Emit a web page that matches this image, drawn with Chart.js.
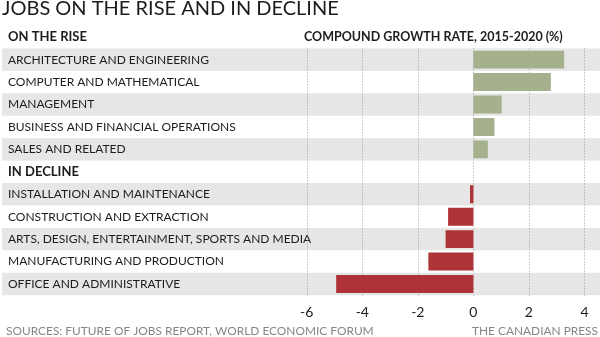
<!DOCTYPE html>
<html lang="en">
<head>
<meta charset="UTF-8">
<meta name="viewport" content="width=device-width, initial-scale=1.0">
<title>Jobs on the rise and in decline</title>
<script src="https://cdn.jsdelivr.net/npm/chart.js@4.4.1/dist/chart.umd.min.js"></script>
<style>
    html, body {
        margin: 0;
        padding: 0;
        background: #fff;
    }

    #wrap {
        width: 600px;
        height: 337px;
    }
</style>
</head>
<body>
<div id="wrap">
    <canvas id="jobsChart" width="600" height="337"></canvas>
</div>

<script>
    // rows from top to bottom, the two section headers carry no value
    const categories = [
        'ON THE RISE',
        'ARCHITECTURE AND ENGINEERING',
        'COMPUTER AND MATHEMATICAL',
        'MANAGEMENT',
        'BUSINESS AND FINANCIAL OPERATIONS',
        'SALES AND RELATED',
        'IN DECLINE',
        'INSTALLATION AND MAINTENANCE',
        'CONSTRUCTION AND EXTRACTION',
        'ARTS, DESIGN, ENTERTAINMENT, SPORTS AND MEDIA',
        'MANUFACTURING AND PRODUCTION',
        'OFFICE AND ADMINISTRATIVE'
    ];
    const headerRows = ['ON THE RISE', 'IN DECLINE'];
    const growthRates = [null, 3.27, 2.79, 1.02, 0.76, 0.52, null, -0.12, -0.91, -1.00, -1.62, -4.94];
    const tickValues = [-6, -4, -2, 0, 2, 4];

    const titleText = 'JOBS ON THE RISE AND IN DECLINE';
    const axisHeading = 'COMPOUND GROWTH RATE, 2015-2020 (%)';
    const sourceText = 'SOURCES: FUTURE OF JOBS REPORT, WORLD ECONOMIC FORUM';
    const creditText = 'THE CANADIAN PRESS';

    const FONT = 'Lato, "Open Sans", sans-serif';
    const TEXT = '#1c1c1c';
    const GREEN = '#a5b08c';
    const RED = '#ad3337';
    const BAND = '#e6e6e6';

    // grey bands on every other row, dotted grid, and the loose text around the plot
    const decorations = {
        id: 'decorations',
        beforeDraw(chart) {
            const { ctx, scales: { y } } = chart;
            const rowH = y.getPixelForValue(1) - y.getPixelForValue(0);
            ctx.save();
            ctx.fillStyle = '#fff';
            ctx.fillRect(0, 0, chart.width, chart.height);
            ctx.fillStyle = BAND;
            categories.forEach((c, i) => {
                if (i % 2 === 1) {
                    const yc = y.getPixelForValue(i);
                    ctx.fillRect(2, yc - rowH / 2, chart.width - 2, rowH);
                }
            });
            ctx.restore();
        },
        beforeDatasetsDraw(chart) {
            const { ctx, chartArea, scales: { x, y } } = chart;
            const rowH = y.getPixelForValue(1) - y.getPixelForValue(0);
            const top = y.getPixelForValue(1) - rowH / 2;
            ctx.save();
            ctx.strokeStyle = '#9d9d9d';
            ctx.lineWidth = 1;
            ctx.setLineDash([1, 2]);
            tickValues.forEach(v => {
                const px = Math.round(x.getPixelForValue(v)) + 0.5;
                ctx.beginPath();
                ctx.moveTo(px, top);
                ctx.lineTo(px, chartArea.bottom + 2);
                ctx.stroke();
            });
            ctx.restore();
        },
        afterDraw(chart) {
            const { ctx } = chart;
            ctx.save();
            ctx.fillStyle = TEXT;
            ctx.textBaseline = 'alphabetic';
            ctx.textAlign = 'left';
            ctx.font = '20px ' + FONT;
            ctx.fillText(titleText, 2, 15);

            ctx.font = 'bold 12.5px ' + FONT;
            ctx.fillText(axisHeading, 304, 41);

            ctx.fillStyle = '#858585';
            ctx.font = '11.9px ' + FONT;
            ctx.fillText(sourceText, 6, 335);
            ctx.textAlign = 'right';
            ctx.fillText(creditText, 598, 335);
            ctx.restore();
        }
    };

    new Chart(document.getElementById('jobsChart'), {
        type: 'bar',
        data: {
            labels: categories,
            datasets: [{
                data: growthRates,
                backgroundColor: c => (c.raw >= 0 ? GREEN : RED),
                borderWidth: 0,
                categoryPercentage: 1,
                barPercentage: 0.8
            }]
        },
        options: {
            indexAxis: 'y',
            responsive: false,
            animation: false,
            devicePixelRatio: 1,
            layout: {
                padding: { top: 26, bottom: 7, left: 2, right: 0 }
            },
            plugins: {
                legend: { display: false },
                tooltip: { enabled: false }
            },
            scales: {
                x: {
                    type: 'linear',
                    position: 'bottom',
                    min: -16.83,
                    max: 4.56,
                    grid: { display: false, drawTicks: false },
                    border: { display: false },
                    afterBuildTicks: s => {
                        s.ticks = tickValues.map(v => ({ value: v }));
                    },
                    ticks: {
                        autoSkip: false,
                        maxRotation: 0,
                        padding: 9,
                        color: TEXT,
                        font: { family: FONT, size: 14 }
                    }
                },
                y: {
                    position: 'left',
                    grid: { display: false, drawTicks: false },
                    border: { display: false },
                    ticks: {
                        mirror: true,
                        padding: 2,
                        autoSkip: false,
                        color: TEXT,
                        font: c => headerRows.includes(categories[c.index])
                            ? { family: FONT, size: 13, weight: 'bold' }
                            : { family: FONT, size: 12 }
                    }
                }
            }
        },
        plugins: [decorations]
    });
</script>
</body>
</html>
